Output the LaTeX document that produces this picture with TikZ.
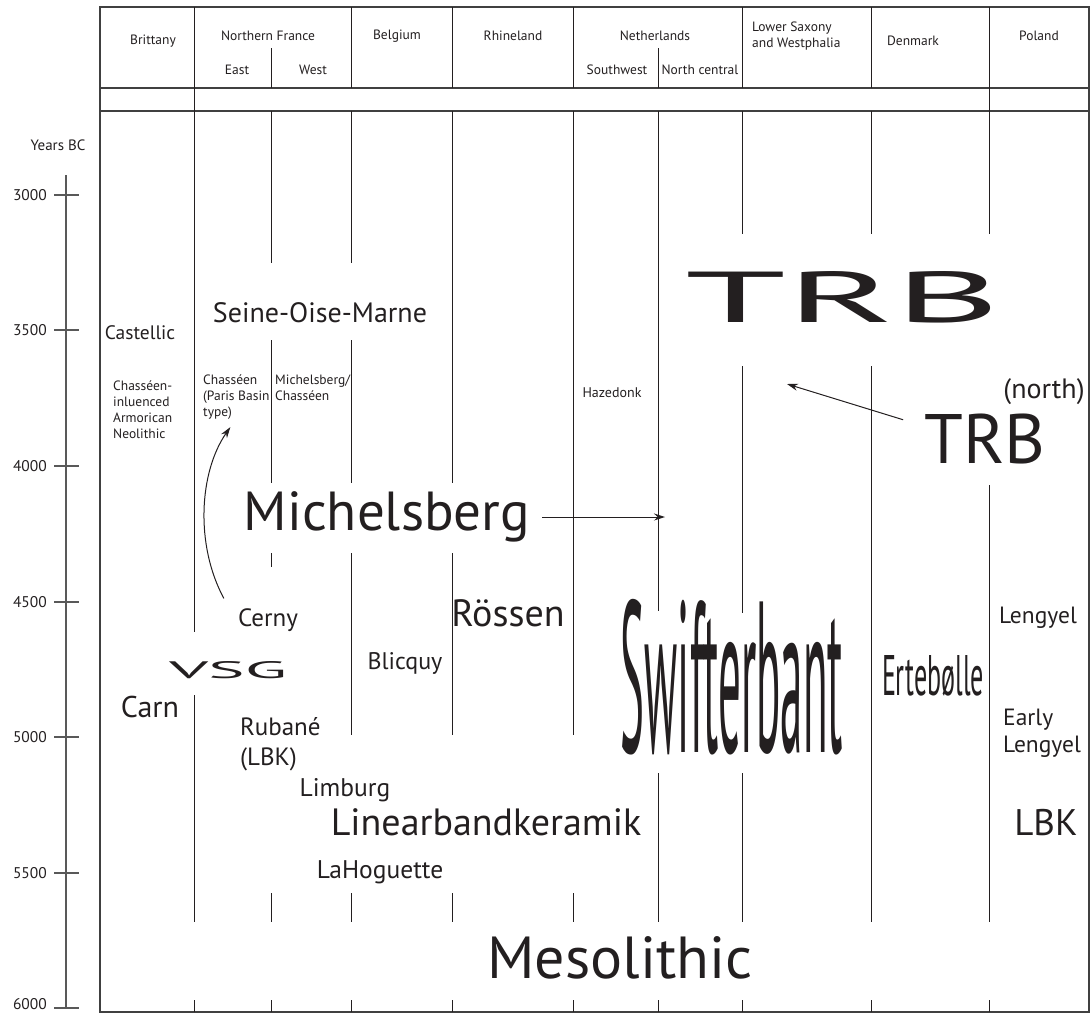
\documentclass[tikz,border=0pt]{standalone}
\usepackage{fontspec}
\setmainfont{PT Sans}
\usepackage{graphicx}
\usetikzlibrary{arrows.meta}

\definecolor{ink}{HTML}{231F20}

\tikzset{
  colline/.style={line width=0.8pt, draw=ink},
  frameline/.style={line width=1.2pt, draw=black!75},
  axisline/.style={line width=1.6pt, draw=black!65},
  lbl/.style={inner sep=0pt, text=ink},
  hdr/.style={lbl, font=\fontsize{13.5}{16}\selectfont, align=center},
  tiny/.style={lbl, font=\fontsize{13.5}{16}\selectfont, align=left, anchor=north west},
  mid/.style={lbl, font=\fontsize{25}{30}\selectfont},
  pointer/.style={-{Stealth[length=11pt,width=7pt]}, line width=1pt, draw=ink}
}

\begin{document}
\begin{tikzpicture}[x=1pt, y=-1pt]
\useasboundingbox (0,0) rectangle (1091,1013);

% time axis
\draw[axisline] (66,175) -- (66,1009);
\foreach \yr/\yy/\ly in {3000/195/195, 3500/330/330, 4000/466/466, 4500/602/602, 5000/737/737, 5500/873/873, 6000/1008/1004} {
  \draw[axisline] (54,\yy) -- (79,\yy);
  \node[lbl, font=\fontsize{15.5}{16}\selectfont, anchor=east] (t\yr) at (47,\ly) {\yr};
}
\node[hdr, font=\fontsize{15}{16}\selectfont] (years) at (58,145) {Years BC};

% frame and header rows
\draw[frameline] (100,7) rectangle (1089,1012);
\draw[frameline] (100,88) -- (1089,88);
\draw[frameline] (100,111) -- (1089,111);

% column lines
\draw[colline] (194,7) -- (194,632) (194,695) -- (194,922) (194,1000) -- (194,1012);
\draw[colline] (271,48) -- (271,88) (271,111) -- (271,263) (271,340) -- (271,483)
  (271,553) -- (271,567) (271,893) -- (271,922) (271,1000) -- (271,1012);
\draw[colline] (351,7) -- (351,88) (351,111) -- (351,263) (351,340) -- (351,483)
  (351,553) -- (351,735) (351,893) -- (351,922) (351,1000) -- (351,1012);
\draw[colline] (452,7) -- (452,88) (452,111) -- (452,483) (452,553) -- (452,735)
  (452,893) -- (452,922) (452,1000) -- (452,1012);
\draw[colline] (573,7) -- (573,88) (573,111) -- (573,735) (573,893) -- (573,922)
  (573,1000) -- (573,1012);
\draw[colline] (658,48) -- (658,88) (658,111) -- (658,611) (658,773) -- (658,922)
  (658,1000) -- (658,1012);
\draw[colline] (742,7) -- (742,88) (742,111) -- (742,234) (742,366) -- (742,613)
  (742,773) -- (742,922) (742,1000) -- (742,1012);
\draw[colline] (871,7) -- (871,88) (871,111) -- (871,234) (871,366) -- (871,922)
  (871,1000) -- (871,1012);
\draw[colline] (989,7) -- (989,234) (989,485) -- (989,922) (989,1000) -- (989,1012);

% region headings
\node[hdr] (hbri) at (153,41) {Brittany};
\node[hdr] (hnf) at (268,36) {Northern France};
\node[hdr] (heast) at (237,70) {East};
\node[hdr] (hwest) at (313,70) {West};
\node[hdr] (hbel) at (397,36) {Belgium};
\node[hdr] (hrhi) at (513,36) {Rhineland};
\node[hdr] (hnet) at (655,36) {Netherlands};
\node[hdr] (hsw) at (617,70) {Southwest};
\node[hdr] (hnc) at (700,70) {North central};
\node[hdr, align=left, anchor=west] (hlsw) at (752,36) {Lower Saxony\\and Westphalia};
\node[hdr] (hden) at (913,41) {Denmark};
\node[hdr] (hpol) at (1039,36) {Poland};

% cultures
\node[lbl, font=\fontsize{19.5}{22}\selectfont] (castellic) at (140,333) {Castellic};
\node[tiny] (chasarm) at (113,381) {Chass\'een-\\inluenced\\Armorican\\Neolithic};
\node[lbl, font=\fontsize{28}{30}\selectfont] (som) at (320,313) {Seine-Oise-Marne};
\node[tiny] (chas) at (203,375) {Chass\'een\\(Paris Basin\\type)};
\node[tiny] (michchas) at (275,375) {Michelsberg/\\Chass\'een};
\node[lbl, font=\fontsize{14}{16}\selectfont] (hazedonk) at (612,393) {Hazedonk};
\node[lbl] (trb) at (843,297) {\resizebox{315pt}{51pt}{TRB}};
\node[lbl, font=\fontsize{28}{30}\selectfont] (north) at (1044,392) {(north)};
\node[lbl, font=\fontsize{70}{80}\selectfont] (trbn) at (985,439) {TRB};
\node[lbl, font=\fontsize{55}{60}\selectfont] (mich) at (387,517) {Michelsberg};
\node[mid] (cerny) at (268,620) {Cerny};
\node[lbl] (vsg) at (228,670) {\resizebox{118pt}{17pt}{VSG}};
\node[lbl, font=\fontsize{30}{32}\selectfont] (carn) at (150,707) {Carn};
\node[lbl, font=\fontsize{24}{26}\selectfont] (blicquy) at (405,663) {Blicquy};
\node[lbl, font=\fontsize{38}{40}\selectfont] (rossen) at (508,613) {R\"ossen};
\node[mid, align=left, anchor=north west] (rubane) at (240,717) {Ruban\'e\\(LBK)};
\node[lbl, font=\fontsize{25.5}{28}\selectfont] (limburg) at (345,790) {Limburg};
\node[lbl, font=\fontsize{38}{40}\selectfont] (linear) at (486,822) {Linearbandkeramik};
\node[lbl, font=\fontsize{25.5}{28}\selectfont] (lahog) at (380,872) {LaHoguette};
\node[lbl] (swift) at (732,677) {\resizebox{222pt}{153pt}{Swifterbant}};
\node[lbl] (erte) at (933,676) {\resizebox{102pt}{40pt}{Ertebølle}};
\node[lbl, font=\fontsize{23.5}{27}\selectfont] (lengyel) at (1038,618) {Lengyel};
\node[lbl, font=\fontsize{23.5}{27}\selectfont, align=left, anchor=north west] (elengyel) at (1003,709) {Early\\Lengyel};
\node[lbl, font=\fontsize{37}{40}\selectfont] (lbkp) at (1046,823) {LBK};
\node[lbl] (meso) at (620,958) {\resizebox{265pt}{42pt}{Mesolithic}};

% arrows
\coordinate (mtip) at (665,517);
\coordinate (ttip) at (787,384);
\draw[pointer, shorten <=12pt] (mich.east) -- (mtip);
\draw[pointer] ([shift={(-21,6)}]trbn.north west) -- (ttip);
\draw[pointer] ([shift={(-14,-10)}]cerny.north west) .. controls (195,545) and (199,472) .. ([shift={(-6,7)}]chas.south);
\end{tikzpicture}
\end{document}
